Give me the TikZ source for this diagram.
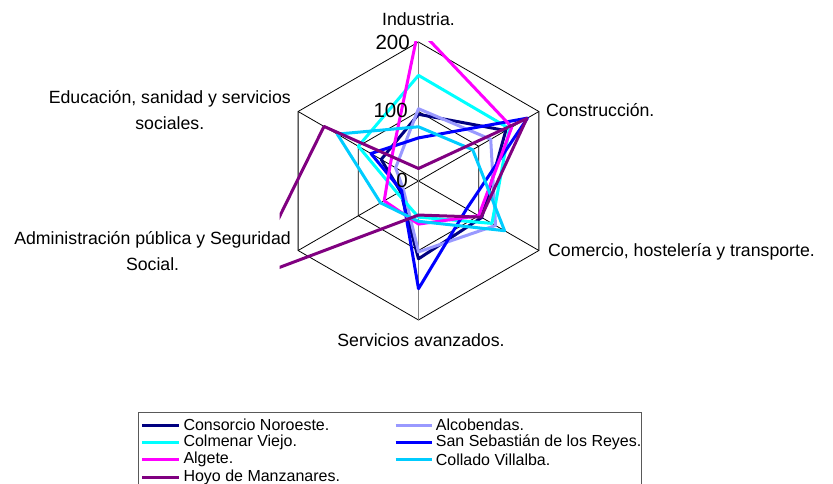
\documentclass[tikz,border=0pt]{standalone}
\usepackage{fontspec}
\setmainfont{Liberation Sans}
\definecolor{sNavy}{HTML}{000080}
\definecolor{sLav}{HTML}{9999FF}
\definecolor{sCyan}{HTML}{00FFFF}
\definecolor{sBlue}{HTML}{0000FF}
\definecolor{sMag}{HTML}{FF00FF}
\definecolor{sSky}{HTML}{00CCFF}
\definecolor{sPurp}{HTML}{800080}
\begin{document}
\begin{tikzpicture}[x=1pt,y=1pt,
  catlbl/.style={font=\fontsize{17.7}{25.5}\selectfont, inner sep=0pt},
  numlbl/.style={font=\fontsize{20.5}{22}\selectfont, inner sep=0pt, anchor=east},
  leglbl/.style={font=\fontsize{16}{18}\selectfont, inner sep=0pt, anchor=west},
  gridline/.style={black, line width=0.8pt},
  axisline/.style={black!50, line width=1.5pt},
  series/.style={line width=3pt, line join=round},
  legline/.style={line width=3pt},
]
\useasboundingbox (0,0) rectangle (833,-484);
\coordinate (C) at (418.5,-181);
% grid
\begin{scope}[shift={(C)}, x=0.695pt, y=0.695pt]
  \foreach \r in {100,200}
    \draw[gridline] (90:\r) -- (30:\r) -- (-30:\r) -- (-90:\r) -- (210:\r) -- (150:\r) -- cycle;
  \foreach \a in {30,-30,210,150}
    \draw[gridline] (0,0) -- (\a:200);
  \draw[axisline] (-90:200) -- (90:200);
\end{scope}
% series
\begin{scope}
\clip (279.5,-42) rectangle (557.5,-320);
\begin{scope}[shift={(C)}, x=0.695pt, y=0.695pt]
\draw[series, sNavy] (90:96) -- (30:145) -- (-30:105) -- (-90:112) -- (210:30) -- (150:62) -- cycle;
\draw[series, sLav]  (90:104) -- (30:120) -- (-30:128) -- (-90:102) -- (210:25) -- (150:38) -- cycle;
\draw[series, sCyan] (90:152) -- (30:151) -- (-30:122) -- (-90:52) -- (210:35) -- (150:100) -- cycle;
\draw[series, sBlue] (90:62) -- (30:181) -- (-30:80) -- (-90:155) -- (210:28) -- (150:79) -- cycle;
\draw[series, sMag]  (90:219) -- (30:155) -- (-30:100) -- (-90:62) -- (210:57) -- (150:47) -- cycle;
\draw[series, sSky]  (90:78) -- (30:90) -- (-30:143) -- (-90:58) -- (210:63) -- (150:135) -- cycle;
\draw[series, sPurp] (90:18) -- (30:180) -- (-30:104) -- (-90:49) -- (210:282) -- (150:157) -- cycle;
\end{scope}
\end{scope}
% value labels
\node[numlbl] (n200) at (410,-42) {200};
\node[numlbl] (n100) at (408,-110.5) {100};
\node[numlbl] (n0) at (408,-180) {0};
% category labels
\node[catlbl] (lInd) at (418.5,-19) {Industria.};
\node[catlbl, anchor=west] (lCons) at (546,-110) {Construcción.};
\node[catlbl, anchor=west] (lCom) at (548,-252) {Comercio, hostelería y transporte.};
\node[catlbl] (lServ) at (421,-340) {Servicios avanzados.};
\node[catlbl, align=center, anchor=east] (lAdm) at (291,-251) {Administración pública y Seguridad\\Social.};
\node[catlbl, align=center, anchor=east] (lEdu) at (291,-110) {Educación, sanidad y servicios\\sociales.};
% legend
\draw[black!65, line width=1pt] (138.3,-412.7) rectangle (641.7,-495);
\draw[legline, sNavy] (142.3,-425) -- (179.3,-425);
\node[leglbl] (g1) at (183.3,-425) {Consorcio Noroeste.};
\draw[legline, sLav] (395.7,-425) -- (431.7,-425);
\node[leglbl] (g2) at (435.7,-425) {Alcobendas.};
\draw[legline, sCyan] (142.3,-442.4) -- (179.3,-442.4);
\node[leglbl] (g3) at (183.3,-442.4) {Colmenar Viejo.};
\draw[legline, sBlue] (395.7,-442.4) -- (431.7,-442.4);
\node[leglbl] (g4) at (435.7,-442.4) {San Sebastián de los Reyes.};
\draw[legline, sMag] (142.3,-459.8) -- (179.3,-459.8);
\node[leglbl] (g5) at (183.3,-459.8) {Algete.};
\draw[legline, sSky] (395.7,-459.8) -- (431.7,-459.8);
\node[leglbl] (g6) at (435.7,-459.8) {Collado Villalba.};
\draw[legline, sPurp] (142.3,-477.2) -- (179.3,-477.2);
\node[leglbl] (g7) at (183.3,-477.2) {Hoyo de Manzanares.};
\end{tikzpicture}
\end{document}
